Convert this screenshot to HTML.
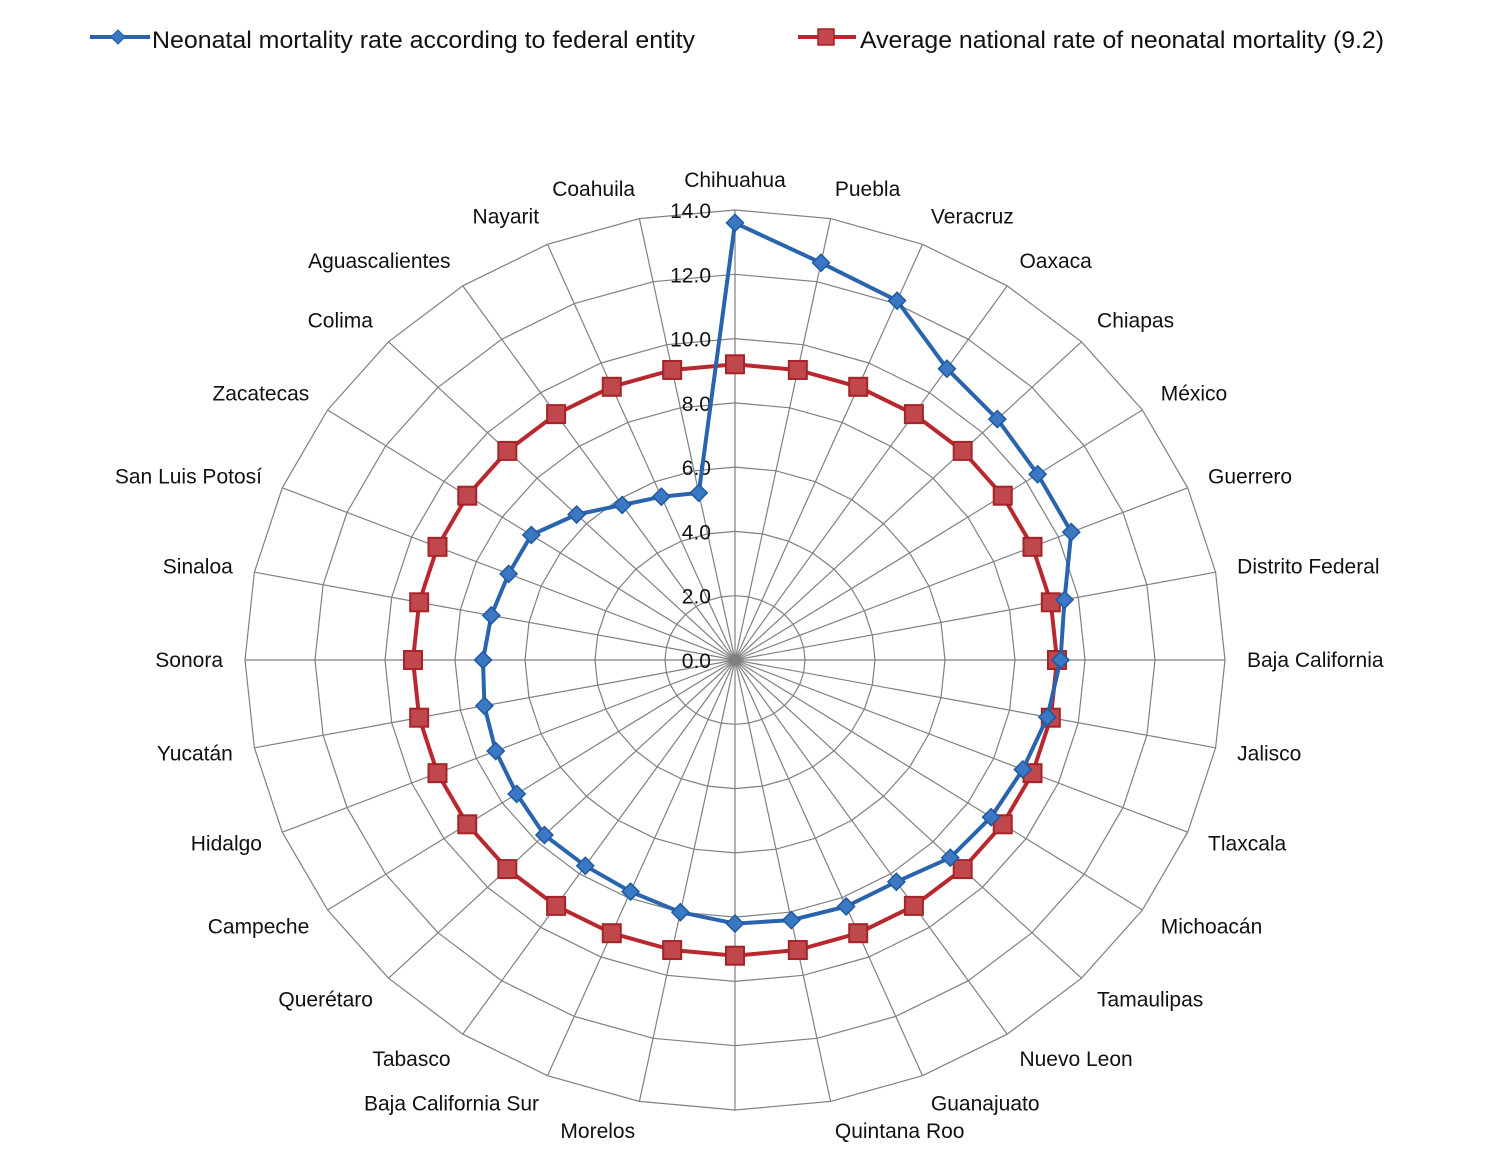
<!DOCTYPE html>
<html><head><meta charset="utf-8"><style>
html,body{margin:0;padding:0;background:#fff;}
svg{display:block;font-family:"Liberation Sans",sans-serif;}
</style></head><body>
<svg id="chart" width="1508" height="1162" viewBox="0 0 1508 1162">
<g>
  <g>
    <line x1="90" y1="37" x2="150" y2="37" stroke="#2a64ad" stroke-width="4"/>
    <rect x="113" y="32" width="10" height="10" transform="rotate(45 118 37)" fill="#3a78c3" stroke="#1f5aa0"/>
    <text x="152" y="48" font-size="24" fill="#111" textLength="543" lengthAdjust="spacingAndGlyphs">Neonatal mortality rate according to federal entity</text>
  </g>
  <g>
    <line x1="798" y1="37" x2="856" y2="37" stroke="#b8282e" stroke-width="4"/>
    <rect x="818" y="29" width="16" height="16" fill="#c0474b" stroke="#a52428" stroke-width="1.5"/>
    <text x="860" y="48" font-size="24" fill="#111" textLength="524" lengthAdjust="spacingAndGlyphs">Average national rate of neonatal mortality (9.2)</text>
  </g>
</g>
<g id="grid"></g>
<g id="ticks"></g>
<g id="labels"></g>
<g id="series"></g>
</svg>
<script>
const categories = ["Chihuahua","Puebla","Veracruz","Oaxaca","Chiapas","México","Guerrero","Distrito Federal","Baja California","Jalisco","Tlaxcala","Michoacán","Tamaulipas","Nuevo Leon","Guanajuato","Quintana Roo","","Morelos","Baja California Sur","Tabasco","Querétaro","Campeche","Hidalgo","Yucatán","Sonora","Sinaloa","San Luis Potosí","Zacatecas","Colima","Aguascalientes","Nayarit","Coahuila"];
const stateRates = [13.6,12.6,12.1,10.9,10.6,10.4,10.4,9.6,9.3,9.1,8.9,8.8,8.7,8.3,8.3,8.25,8.2,8.0,7.8,7.7,7.7,7.5,7.4,7.3,7.2,7.1,7.0,7.0,6.4,5.8,5.5,5.3];
const nationalRates = [9.2,9.2,9.2,9.2,9.2,9.2,9.2,9.2,9.2,9.2,9.2,9.2,9.2,9.2,9.2,9.2,9.2,9.2,9.2,9.2,9.2,9.2,9.2,9.2,9.2,9.2,9.2,9.2,9.2,9.2,9.2,9.2];
const tickValues = [0,2,4,6,8,10,12,14];
const tickLabels = ["0.0","2.0","4.0","6.0","8.0","10.0","12.0","14.0"];

const NS="http://www.w3.org/2000/svg";
const cx=735, cy=660, RX=490, RY=450, MAX=14;
const N=categories.length;
function ang(i){return i*2*Math.PI/N;}
function px(i,v){return cx+RX*(v/MAX)*Math.sin(ang(i));}
function py(i,v){return cy-RY*(v/MAX)*Math.cos(ang(i));}
function mk(tag,attrs,parent){const e=document.createElementNS(NS,tag);for(const k in attrs)e.setAttribute(k,attrs[k]);parent.appendChild(e);return e;}

const grid=document.getElementById('grid');
tickValues.forEach((t,ti)=>{
  if(t===0)return;
  let pts=[];for(let i=0;i<N;i++)pts.push(px(i,t).toFixed(1)+','+py(i,t).toFixed(1));
  const p=mk('polygon',{points:pts.join(' '),fill:'none',stroke:'#808080','stroke-width':1.2},grid);
  
  
});
for(let i=0;i<N;i++){
  const l=mk('line',{x1:cx,y1:cy,x2:px(i,MAX),y2:py(i,MAX),stroke:'#808080','stroke-width':1.2},grid);
  
  
}
const ticks=document.getElementById('ticks');
tickValues.forEach((t,ti)=>{
  const tx=mk('text',{x:711,y:py(0,t)+8,'text-anchor':'end','font-size':21,fill:'#111'},ticks);
  tx.textContent=tickLabels[ti];
  
  
});
const labels=document.getElementById('labels');
categories.forEach((c,i)=>{
  if(!c)return;
  const s=Math.sin(ang(i)), co=Math.cos(ang(i));
  const lx=cx+(RX+22)*s, ly=cy-(RY+30)*co;
  const anchor=Math.abs(s)<0.1?'middle':(s>0?'start':'end');
  const tx=mk('text',{x:lx,y:ly+7,'text-anchor':anchor,'font-size':21,fill:'#111'},labels);
  tx.textContent=c;
  
  
});
const series=document.getElementById('series');
function drawSeries(vals,color,name,marker){
  let pts=[];vals.forEach((v,i)=>pts.push(px(i,v).toFixed(1)+','+py(i,v).toFixed(1)));
  const pl=mk('polygon',{points:pts.join(' '),fill:'none',stroke:color,'stroke-width':4,'stroke-linejoin':'round'},series);
  
  
  vals.forEach((v,i)=>{
    const x=px(i,v), y=py(i,v);
    let m;
    if(marker==='diamond'){
      m=mk('rect',{x:x-6,y:y-6,width:12,height:12,transform:`rotate(45 ${x} ${y})`,fill:'#3a78c3',stroke:'#1f5aa0','stroke-width':1.5},series);
    }else{
      m=mk('rect',{x:x-9,y:y-9,width:18,height:18,fill:'#c0474b',stroke:'#a52428','stroke-width':2},series);
    }
    
    
  });
}
drawSeries(nationalRates,'#b8282e','national-average','square');
drawSeries(stateRates,'#2a64ad','state-rate','diamond');
</script>
</body></html>
